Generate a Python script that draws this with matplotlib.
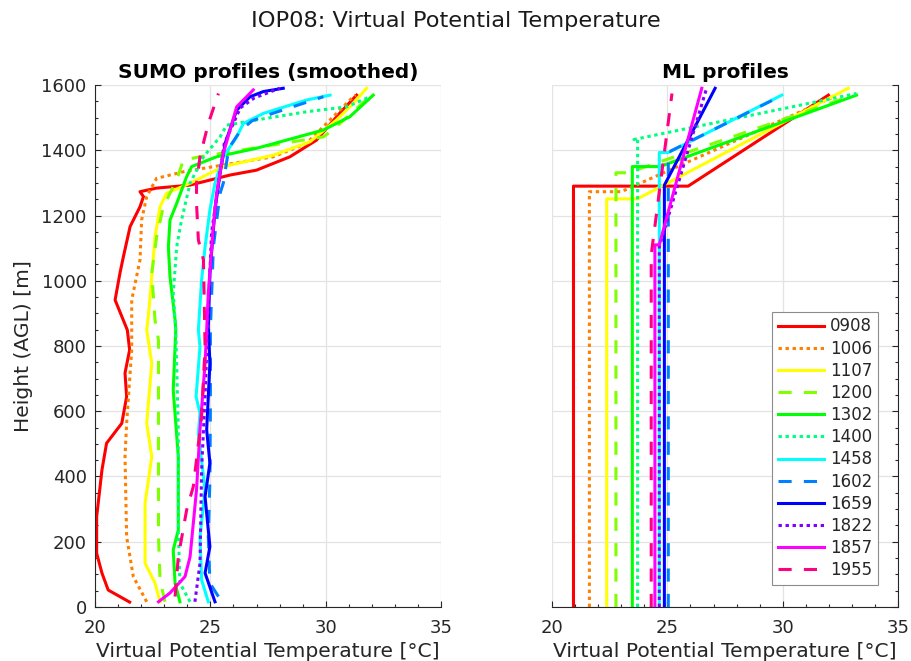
#! /usr/bin/env python3

import numpy as np
import matplotlib
matplotlib.use('Agg')
import matplotlib.pyplot as plt
from matplotlib.ticker import MultipleLocator, NullFormatter

# launch times (legend labels)
times = ['0908', '1006', '1107', '1200', '1302', '1400',
         '1458', '1602', '1659', '1822', '1857', '1955']

# SUMO smoothed profiles: heights (m AGL) and theta_v (degC)
z_0908 = [15, 52, 104, 165, 276, 420, 502, 563, 645, 717, 788, 849, 941,
          1023, 1074, 1166, 1227, 1258, 1273, 1284, 1293, 1324, 1339, 1380,
          1431, 1513, 1569]
t_0908 = [21.5, 20.57, 20.3, 20.07, 20.07, 20.3, 20.5, 21.16, 21.37, 21.3,
          21.5, 21.4, 20.87, 21.08, 21.23, 21.52, 21.95, 22.1, 21.95, 22.67,
          24.1, 25.85, 27.0, 28.45, 29.6, 30.6, 31.34]
z_1006 = [16, 93, 215, 461, 563, 788, 849, 941, 1064, 1186, 1258, 1314,
          1334, 1355, 1380, 1421, 1493, 1554, 1569]
t_1006 = [22.24, 21.66, 21.37, 21.3, 21.37, 21.59, 21.59, 21.59, 21.95,
          22.02, 22.24, 22.67, 23.83, 25.56, 27.73, 29.17, 30.19, 31.05, 31.3]
z_1107 = [16, 73, 134, 318, 461, 563, 747, 849, 890, 1012, 1135, 1227, 1268,
          1299, 1350, 1385, 1426, 1493, 1544, 1590]
t_1107 = [22.82, 22.6, 22.17, 22.17, 22.46, 22.24, 22.46, 22.24, 22.31,
          22.46, 22.6, 22.82, 23.1, 24.12, 25.56, 27.73, 29.32, 30.47, 31.2,
          31.77]
z_1200 = [16, 83, 215, 543, 818, 880, 1023, 1135, 1227, 1309, 1370, 1380,
          1441, 1462, 1574]
t_1200 = [23.03, 22.82, 22.75, 22.75, 22.75, 22.6, 22.46, 22.67, 22.96,
          23.54, 23.83, 24.55, 29.9, 30.3, 32.06]
z_1302 = [16, 73, 175, 236, 461, 665, 849, 880, 1012, 1104, 1186, 1237,
          1319, 1350, 1380, 1406, 1462, 1503, 1569]
t_1302 = [23.68, 23.47, 23.39, 23.61, 23.61, 23.39, 23.5, 23.47, 23.25,
          23.18, 23.25, 23.54, 23.97, 24.19, 25.27, 27.0, 29.9, 31.05, 32.06]
z_1400 = [16, 73, 236, 543, 849, 961, 1104, 1186, 1299, 1380, 1441, 1477,
          1493, 1518, 1533, 1564]
t_1400 = [24.12, 23.68, 23.61, 23.61, 23.5, 23.39, 23.54, 23.75, 24.12,
          24.7, 25.42, 25.71, 27.0, 29.17, 30.9, 31.92]
z_1458 = [16, 83, 215, 359, 532, 594, 645, 798, 849, 1002, 1104, 1217, 1299,
          1380, 1441, 1482, 1513, 1554, 1569]
t_1458 = [24.91, 24.62, 24.55, 24.77, 24.48, 24.55, 24.38, 24.55, 24.48,
          24.62, 24.77, 24.98, 25.2, 25.56, 26.14, 26.43, 27.3, 29.17, 30.19]
z_1602 = [32, 73, 215, 389, 600, 850, 1104, 1268, 1299, 1406, 1460, 1490,
          1513, 1564]
t_1602 = [25.35, 24.98, 24.91, 24.98, 25.0, 25.0, 25.13, 25.42, 25.56, 25.8,
          26.3, 26.8, 27.7, 29.9]
z_1659 = [16, 104, 185, 338, 441, 543, 747, 859, 1023, 1217, 1329, 1421,
          1523, 1564, 1580, 1590]
t_1659 = [25.2, 24.77, 24.98, 24.77, 24.98, 24.84, 24.98, 24.91, 24.98,
          25.2, 25.42, 25.64, 26.14, 26.72, 27.3, 28.16]
z_1822 = [16, 134, 420, 645, 900, 1145, 1300, 1420, 1530, 1560, 1590]
t_1822 = [24.33, 24.55, 24.62, 24.77, 24.9, 25.05, 25.35, 25.6, 26.3, 26.9,
          28.0]
z_1857 = [16, 43, 93, 154, 359, 543, 747, 849, 961, 1166, 1268, 1390, 1533,
          1585]
t_1857 = [22.75, 23.25, 23.9, 24.12, 24.4, 24.55, 24.77, 24.84, 24.91,
          25.13, 25.27, 25.56, 26.14, 26.86]
z_1955 = [32, 154, 297, 369, 583, 798, 1064, 1125, 1237, 1299, 1380, 1482,
          1574]
t_1955 = [23.47, 23.61, 23.97, 24.26, 24.62, 24.77, 24.7, 24.48, 24.4, 24.4,
          24.55, 24.91, 25.35]

sumo_z = [z_0908, z_1006, z_1107, z_1200, z_1302, z_1400,
          z_1458, z_1602, z_1659, z_1822, z_1857, z_1955]
sumo_t = [t_0908, t_1006, t_1107, t_1200, t_1302, t_1400,
          t_1458, t_1602, t_1659, t_1822, t_1857, t_1955]

# mixed-layer model: ML theta, ML depth, theta above jump, top point
ml_theta = [20.93, 21.62, 22.37, 22.77, 23.48, 23.71,
            24.65, 25.04, 24.87, 24.65, 24.46, 24.3]
ml_depth = [1290, 1273, 1251, 1331, 1350, 1433,
            1393, 1396, 1293, 1104, 1110, 1080]
ml_jump = [25.9, 23.0, 23.7, 23.3, 24.68, 23.55,
           25.04, 25.1, 24.87, 24.65, 24.65, 24.3]
ml_top_t = [31.98, 32.1, 32.84, 32.9, 33.2, 33.2,
            29.96, 30.0, 27.07, 26.7, 26.49, 25.2]
ml_top_z = [1569, 1560, 1590, 1565, 1569, 1574,
            1569, 1569, 1590, 1590, 1590, 1574]

colors = ['#ff0000', '#ff8000', '#ffff00', '#80ff00', '#00ff00', '#00ff80',
          '#00ffff', '#0080ff', '#0000ff', '#8000ff', '#ff00ff', '#ff0080']
styles = ['-', (0, (1.1, 1.2)), '-', (0, (4.3, 4.0))]

axcol = '#262626'


def style_axes(ax, right=False):
    ax.set_xlim(20, 35)
    ax.set_ylim(0, 1600)
    ax.xaxis.set_major_locator(MultipleLocator(5))
    ax.xaxis.set_minor_locator(MultipleLocator(1))
    ax.yaxis.set_major_locator(MultipleLocator(200))
    ax.yaxis.set_minor_locator(MultipleLocator(50))
    ax.grid(True, which='major', color='#e3e3e3', lw=0.9)
    ax.set_axisbelow(True)
    ax.spines['top'].set_visible(False)
    for s in ax.spines.values():
        s.set_color(axcol)
        s.set_linewidth(0.8)
    if right:
        ax.spines['left'].set_visible(False)
        ax.yaxis.tick_right()
        ax.yaxis.set_major_formatter(NullFormatter())
    else:
        ax.spines['right'].set_visible(False)
    ax.tick_params(which='both', direction='in', colors=axcol,
                   labelsize=13, width=0.8)
    ax.tick_params(which='major', length=4)
    ax.tick_params(which='minor', length=2.5)
    ax.tick_params(axis='x', which='major', pad=9)
    ax.tick_params(axis='y', which='major', pad=6)
    ax.set_xlabel('Virtual Potential Temperature [°C]', fontsize=14.6,
                  color=axcol, labelpad=3)


def main():
    fig = plt.figure(figsize=(9.12, 6.61), dpi=100)
    fig.patch.set_facecolor('white')
    ax1 = fig.add_axes([0.1042, 0.0817, 0.3794, 0.7897])
    ax2 = fig.add_axes([0.6053, 0.0817, 0.3794, 0.7897])

    for k, lab in enumerate(times):
        ls = styles[k % 4]
        ax1.plot(sumo_t[k], sumo_z[k], color=colors[k], ls=ls, lw=2.2,
                 label=lab)
        tt = [ml_theta[k], ml_theta[k], ml_jump[k], ml_top_t[k]]
        zz = [0, ml_depth[k], ml_depth[k], ml_top_z[k]]
        ax2.plot(tt, zz, color=colors[k], ls=ls, lw=2.2, label=lab)

    style_axes(ax1)
    style_axes(ax2, right=True)
    ax1.set_ylabel('Height (AGL) [m]', fontsize=14.6, color=axcol,
                   labelpad=6)
    ax1.set_title('SUMO profiles (smoothed)', fontsize=14.5,
                  fontweight='bold', pad=5)
    ax2.set_title('ML profiles', fontsize=14.5, fontweight='bold', pad=5)

    leg = ax2.legend(loc='lower right', bbox_to_anchor=(0.942, 0.042),
                     borderaxespad=0, fontsize=12, handlelength=2.75,
                     handletextpad=0.36, labelspacing=0.25, fancybox=False,
                     framealpha=1, borderpad=0.35)
    leg.get_frame().set_edgecolor('#8c8c8c')
    leg.get_frame().set_linewidth(0.8)
    for t in leg.get_texts():
        t.set_color(axcol)

    fig.suptitle('IOP08: Virtual Potential Temperature', fontsize=16.2,
                 color='#1a1a1a', y=0.983)
    plt.savefig('out.png', dpi=100)
    plt.close()
    return None


if __name__ == '__main__':
    main()
